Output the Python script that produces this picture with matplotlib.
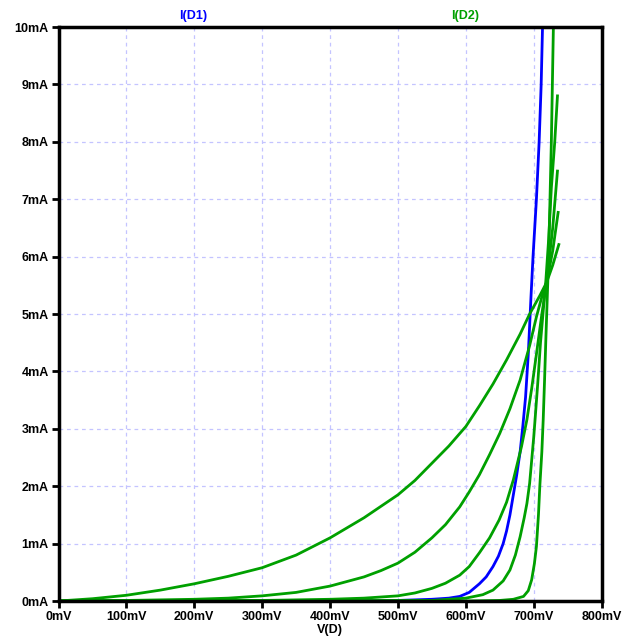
import matplotlib
matplotlib.use("Agg")
import matplotlib.pyplot as plt

plt.rcParams['font.family'] = ['Liberation Sans', 'DejaVu Sans']

# D1 (blue), values: V in mV, I in mA
d1_v = [0, 450, 500, 550, 575, 591, 605, 620, 630, 640, 648, 655, 660, 665, 670, 675,
        680, 684, 688, 692, 696, 699, 704, 708, 711, 713, 715]
d1_i = [0, 0.0, 0.01, 0.03, 0.05, 0.08, 0.15, 0.3, 0.42, 0.6, 0.78, 1.0, 1.22, 1.5, 1.85, 2.2,
        2.6, 3.05, 3.55, 4.3, 5.3, 6.0, 7.0, 8.0, 9.0, 10.0, 10.6]

# D2 (green), parameter sweep - five curves
d2_a_v = [0, 50, 100, 150, 200, 250, 300, 350, 400, 450, 500, 525, 550, 575, 600, 620,
          640, 660, 680, 694, 709, 719, 728, 737]
d2_a_i = [0, 0.04, 0.1, 0.19, 0.3, 0.43, 0.58, 0.8, 1.1, 1.45, 1.85, 2.1, 2.4, 2.7, 3.04, 3.4,
          3.78, 4.2, 4.65, 5.0, 5.32, 5.55, 5.85, 6.21]

d2_b_v = [0, 100, 200, 250, 300, 350, 400, 450, 475, 500, 525, 550, 570, 591, 605, 620,
          635, 650, 665, 680, 694, 704, 712, 719, 728, 736]
d2_b_i = [0, 0.01, 0.03, 0.05, 0.09, 0.15, 0.26, 0.42, 0.53, 0.66, 0.85, 1.1, 1.33, 1.64, 1.9, 2.2,
          2.55, 2.92, 3.35, 3.85, 4.45, 4.95, 5.3, 5.55, 6.1, 6.77]

d2_c_v = [0, 300, 400, 450, 500, 525, 550, 570, 591, 605, 620, 635, 649, 660, 670, 682,
          690, 697, 704, 712, 719, 728, 735]
d2_c_i = [0, 0.01, 0.03, 0.05, 0.09, 0.14, 0.22, 0.31, 0.45, 0.6, 0.84, 1.1, 1.41, 1.72, 2.11, 2.69,
          3.16, 3.7, 4.3, 5.0, 5.55, 6.5, 7.49]

d2_d_v = [0, 550, 600, 625, 640, 655, 665, 673, 680, 686, 690, 694, 697, 700, 702, 706,
          710, 714, 718, 722, 726, 731, 735]
d2_d_i = [0, 0.01, 0.05, 0.11, 0.19, 0.35, 0.54, 0.8, 1.12, 1.45, 1.7, 2.05, 2.45, 2.85, 3.16, 3.8,
          4.5, 5.05, 5.6, 6.3, 7.2, 8.0, 8.8]

d2_e_v = [0, 600, 650, 670, 685, 692, 697, 701, 704, 707, 709, 712, 714, 716, 718, 720,
          722, 726, 729, 731]
d2_e_i = [0, 0.0, 0.01, 0.03, 0.08, 0.18, 0.37, 0.65, 0.95, 1.5, 2.0, 2.6, 3.16, 3.85, 4.6, 5.3,
          6.0, 8.0, 10.0, 10.6]

x_ticks = [0, 100, 200, 300, 400, 500, 600, 700, 800]
y_ticks = [0, 1, 2, 3, 4, 5, 6, 7, 8, 9, 10]

blue = '#0000ff'
green = '#00a000'

fig = plt.figure(figsize=(6.26, 6.43), dpi=100)
ax = fig.add_axes([0.0935, 0.0653, 0.8675, 0.8927])

ax.plot(d1_v, d1_i, color=blue, lw=2.0)
for v, i in [(d2_a_v, d2_a_i), (d2_b_v, d2_b_i), (d2_c_v, d2_c_i),
             (d2_d_v, d2_d_i), (d2_e_v, d2_e_i)]:
    ax.plot(v, i, color=green, lw=2.0)

ax.set_xlim(0, 800)
ax.set_ylim(0, 10)
ax.set_xticks(x_ticks)
ax.set_yticks(y_ticks)
ax.set_xticklabels([f"{t}mV" for t in x_ticks], fontsize=9, fontweight='bold')
ax.set_yticklabels([f"{t}mA" for t in y_ticks], fontsize=9, fontweight='bold')
ax.tick_params(direction='out', length=5, width=2, pad=2)

ax.grid(True, color='#c4c4ff', lw=0.9, ls=(0, (3, 3)))
for s in ax.spines.values():
    s.set_linewidth(2.5)
    s.set_color('black')

ax.set_xlabel("V(D)", fontsize=9, fontweight='bold', labelpad=1)

fig.text(193 / 626, 1 - 16 / 643, "I(D1)", color=blue, fontsize=9,
         fontweight='bold', ha='center', va='center')
fig.text(465 / 626, 1 - 16 / 643, "I(D2)", color=green, fontsize=9,
         fontweight='bold', ha='center', va='center')

fig.savefig("out.png", dpi=100)
